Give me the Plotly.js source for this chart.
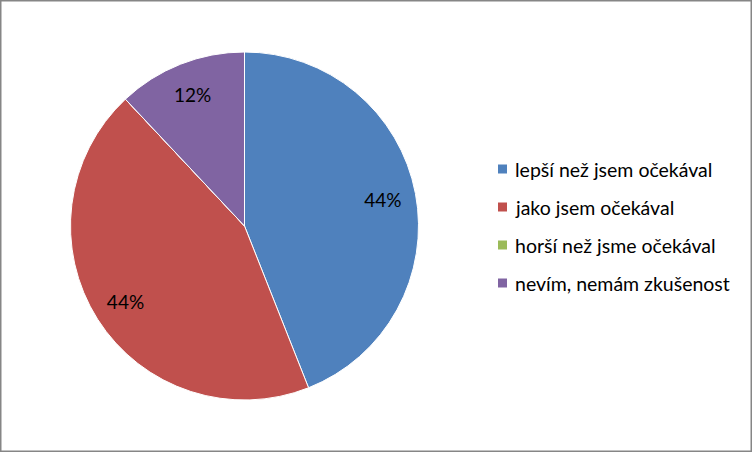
<!DOCTYPE html>
<html>
<head>
<meta charset="utf-8">
<script src="https://cdn.plot.ly/plotly-3.0.1.min.js"></script>
<style>html,body{margin:0;padding:0;background:#fff;}#chart{width:752px;height:452px;}</style>
</head>
<body>
<div id="chart"></div>
<script>
const categories = ["lepší než jsem očekával", "jako jsem očekával", "horší než jsme očekával", "nevím, nemám zkušenost"];
const values = [11, 11, 0, 3];
const colors = ["#4F81BD", "#C0504D", "#9BBB59", "#8064A2"];

const W = 752, H = 452;
const cx = 244.5, cy = 226, R = 174;
const FONT = "Lato, 'Open Sans', sans-serif";
const domain = {x: [(cx - R) / W, (cx + R) / W], y: [(H - cy - R) / H, (H - cy + R) / H]};

const base = {
  type: "pie", labels: categories, values: values, sort: false,
  direction: "clockwise", rotation: 0,
  showlegend: false, domain: domain
};
const fullPie = Object.assign({}, base, {
  marker: {colors: colors, line: {color: "#ffffff", width: 1}},
  textinfo: "none", hoverinfo: "label+percent"
});
const labelRing = Object.assign({}, base, {
  hole: 0.62,
  marker: {colors: categories.map(() => "rgba(0,0,0,0)"), line: {width: 0}},
  textinfo: "percent",
  texttemplate: "%{percent:.0%}",
  textposition: "inside",
  insidetextorientation: "horizontal",
  textfont: {family: FONT, size: 19, color: "#000000"},
  hoverinfo: "skip"
});

const legendX = 513 / W;
const rowY = [169, 207, 245, 283];
const annotations = categories.map((c, i) => ({
  xref: "paper", yref: "paper", x: legendX, y: 1 - rowY[i] / H,
  xanchor: "left", yanchor: "middle", showarrow: false,
  text: c, font: {family: FONT, size: 19.5, color: "#000000"}
}));
const shapes = categories.map((c, i) => ({
  type: "rect", xref: "paper", yref: "paper",
  x0: 498 / W, x1: 507 / W, y0: 1 - (rowY[i] - 4.5) / H, y1: 1 - (rowY[i] + 4.5) / H,
  fillcolor: colors[i], line: {width: 0}
}));
shapes.push({type: "rect", xref: "paper", yref: "paper", x0: 0, x1: 1, y0: 0, y1: 1,
  line: {color: "#868686", width: 3}, fillcolor: "rgba(0,0,0,0)"});

Plotly.newPlot("chart", [fullPie, labelRing], {
  width: W, height: H,
  margin: {l: 0, r: 0, t: 0, b: 0},
  paper_bgcolor: "#ffffff",
  showlegend: false,
  annotations: annotations,
  shapes: shapes
}, {displayModeBar: false, staticPlot: true});
</script>
</body>
</html>
